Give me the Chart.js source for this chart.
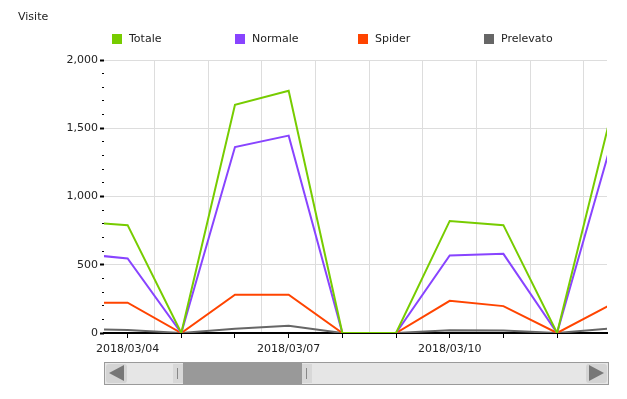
<!DOCTYPE html>
<html lang="it">
<head>
<meta charset="UTF-8">
<title>Visite</title>
<script src="https://cdn.jsdelivr.net/npm/chart.js@4.4.0/dist/chart.umd.min.js"></script>
<style>
  * { box-sizing: border-box; margin: 0; padding: 0; }
  body { width: 627px; height: 399px; background: #fff; position: relative; overflow: hidden;
         font-family: 'DejaVu Sans', Verdana, sans-serif; font-size: 11px; color: #222; }
  #wrap { position: absolute; left: 0; top: 0; width: 627px; height: 399px; }
  .title { position: absolute; left: 18px; top: 10px; }
  .legend { position: absolute; top: 32px; left: 0; }
  .item { position: absolute; white-space: nowrap; }
  .item i { position: absolute; left: 0; top: 2px; width: 10px; height: 10px; }
  .item span { position: absolute; left: 17px; top: 0; }
  .scroll { position: absolute; left: 104px; top: 362px; width: 505px; height: 23px;
            background: #e6e6e6; border: 1px solid #9a9a9a; }
  .btn { position: absolute; top: 1px; width: 21px; height: 19px; background: #d4d4d4; border-radius: 3px; }
  .btn.l { left: 1px; } .btn.r { right: 1px; }
  .btn.l::after { content: ''; position: absolute; left: 3px; top: 1px; border-style: solid;
                  border-width: 8.5px 15px 8.5px 0; border-color: transparent #777 transparent transparent; }
  .btn.r::after { content: ''; position: absolute; right: 3px; top: 1px; border-style: solid;
                  border-width: 8.5px 0 8.5px 15px; border-color: transparent transparent transparent #777; }
  .grip { position: absolute; top: 1px; width: 10px; height: 19px; background: #d8d8d8; }
  .grip::after { content: ''; position: absolute; left: 4px; top: 4px; width: 1px; height: 11px; background: #888; }
  .thumb { position: absolute; top: 0; height: 21px; background: #999; }
</style>
</head>
<body>
<div id="wrap"><canvas id="c"></canvas></div>
<div class="title">Visite</div>
<div class="legend" id="legend"></div>
<div class="scroll">
  <div class="btn l"></div>
  <div class="grip" style="left:68px"></div>
  <div class="thumb" style="left:78px;width:119px"></div>
  <div class="grip" style="left:197px"></div>
  <div class="btn r"></div>
</div>
<script>
// giorni (indice 0 = 2018/03/03)
const days = ['2018/03/03', '2018/03/04', '2018/03/05', '2018/03/06', '2018/03/07', '2018/03/08',
              '2018/03/09', '2018/03/10', '2018/03/11', '2018/03/12', '2018/03/13']

const totale    = [817, 790, 0, 1672, 1775, 0, 0, 821, 790, 0, 1590]
const normale   = [585, 546, 0, 1362, 1446, 0, 0, 568, 580, 0, 1376]
const spider    = [222, 222, 0, 280, 280, 0, 0, 236, 197, 0, 207]
const prelevato = [30, 22, 0, 32, 53, 0, 0, 20, 18, 0, 34]

const seriesNames  = ['Totale', 'Normale', 'Spider', 'Prelevato']
const seriesColors = ['#77cc00', '#8844ff', '#ff4400', '#666666']

// finestra visibile (zoom della scrollbar)
const viewMin = 0.56
const viewMax = 9.93
const yMax = 2000

// legenda
const legendX = [112, 235, 358, 484]
document.getElementById('legend').innerHTML = seriesNames.map((n, i) =>
  `<div class="item" style="left:${legendX[i]}px"><i style="background:${seriesColors[i]}"></i><span>${n}</span></div>`).join('')

const toPts = arr => arr.map((v, i) => ({ x: i, y: v }))
const allSeries = [totale, normale, spider, prelevato]

const FONT = { family: "'DejaVu Sans', Verdana, sans-serif", size: 11 }

new Chart(document.getElementById('c'), {
  type: 'line',
  data: {
    datasets: allSeries.map((arr, i) => ({
      label: seriesNames[i], data: toPts(arr),
      borderColor: seriesColors[i], backgroundColor: seriesColors[i],
      borderWidth: 2, pointRadius: 0, tension: 0, xAxisID: 'x', yAxisID: 'y'
    }))
  },
  options: {
    responsive: true, maintainAspectRatio: false, animation: false,
    layout: { padding: { top: 60, right: 20, left: 0, bottom: 0 } },
    plugins: { legend: { display: false }, tooltip: { enabled: false } },
    scales: {
      x: {
        type: 'linear', position: 'bottom', min: viewMin, max: viewMax,
        afterBuildTicks: s => { s.ticks = days.map((d, i) => ({ value: i })).filter(t => t.value >= viewMin && t.value <= viewMax) },
        ticks: { autoSkip: false, maxRotation: 0, color: '#222', font: FONT, padding: 5,
                 callback: v => (v - 1) % 3 === 0 ? days[v] : '' },
        grid: { drawOnChartArea: false, tickLength: 5, tickColor: '#000', tickWidth: 1 },
        border: { color: '#000', width: 2 },
        afterFit: s => { s.height = 66 }
      },
      xg: {
        type: 'linear', position: 'bottom', min: viewMin, max: viewMax, weight: -1,
        afterBuildTicks: s => { s.ticks = days.map((d, i) => ({ value: i + 0.5 })).filter(t => t.value > viewMin && t.value < viewMax) },
        ticks: { display: false },
        grid: { color: '#dddddd', drawTicks: false },
        border: { display: false },
        afterFit: s => { s.height = 0 }
      },
      y: {
        min: 0, max: yMax, position: 'left',
        ticks: { stepSize: 500, color: '#222', font: FONT, padding: 2 },
        grid: { color: '#dddddd', tickColor: '#000', tickLength: 4, tickWidth: 2 },
        border: { display: false },
        afterFit: s => { s.width = 104 }
      },
      y2: {
        min: 0, max: yMax, position: 'left', weight: -1,
        ticks: { stepSize: 100, display: false },
        grid: { drawOnChartArea: false, tickColor: '#000', tickLength: 2, tickWidth: 1 },
        border: { display: false },
        afterFit: s => { s.width = 0 }
      }
    }
  }
})
</script>
</body>
</html>
